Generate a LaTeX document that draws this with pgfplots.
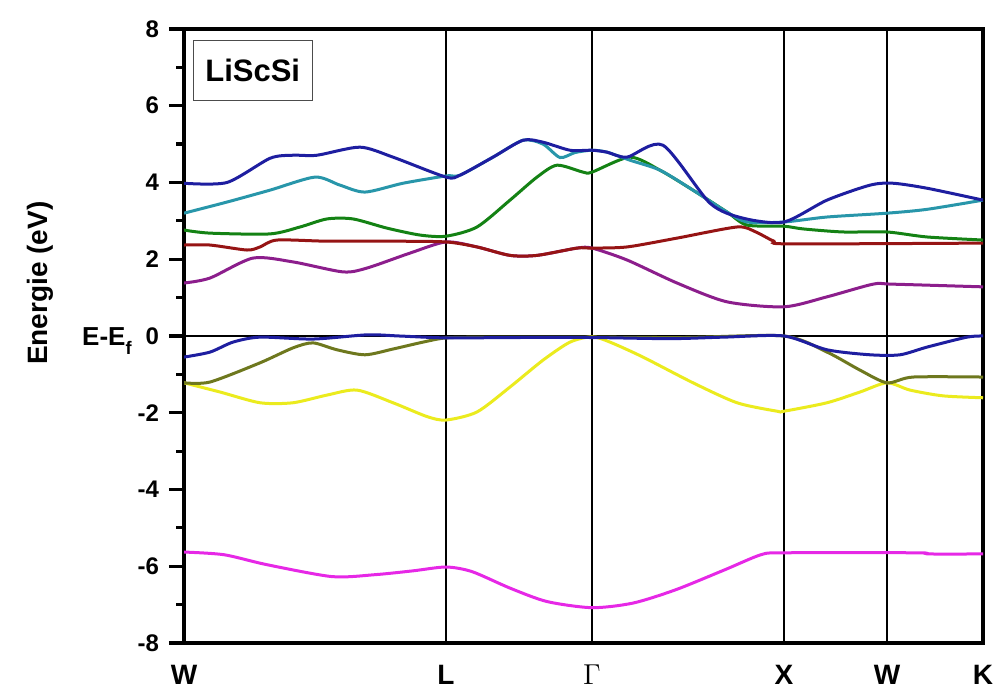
\documentclass[border=0pt]{standalone}
\usepackage{fontspec}
\setmainfont{Liberation Sans}
\usepackage{pgfplots}
\pgfplotsset{compat=1.18}
\definecolor{bBlue}{RGB}{30,30,160}
\definecolor{bCyan}{RGB}{40,150,170}
\definecolor{bGreen}{RGB}{20,130,20}
\definecolor{bRed}{RGB}{150,20,20}
\definecolor{bPurple}{RGB}{140,30,140}
\definecolor{bOlive}{RGB}{110,120,30}
\definecolor{bYellow}{RGB}{235,235,30}
\definecolor{bMag}{RGB}{230,40,230}
\begin{document}
\begin{tikzpicture}
\useasboundingbox (0,0) rectangle (500pt,344pt);
\begin{axis}[
  name=ax,
  at={(92pt,22.5pt)}, anchor=south west,
  scale only axis, width=399.5pt, height=307pt,
  xmin=0, xmax=799, ymin=-8, ymax=8,
  axis line style={line width=2.4pt},
  xtick={0,262,408,600,703,799},
  xticklabels={W,L,{\fontsize{15}{16}\selectfont$\Gamma$},X,W,K},
  x tick label style={font=\bfseries\fontsize{14}{16}\selectfont, yshift=0pt},
  major x tick style={draw=none},
  xmajorgrids, grid style={black, line width=0.8pt},
  ytick={-8,-6,-4,-2,0,2,4,6,8},
  yticklabels={-8,-6,-4,-2,0,2,4,6,8},
  minor y tick num=1,
  ytick pos=left, tick align=outside,
  y tick label style={font=\bfseries\fontsize{12}{14}\selectfont, xshift=-1.5pt},
  major tick length=7.5pt, minor tick length=3.8pt,
  every tick/.style={black, line width=1.6pt},
  ylabel={Energie (eV)},
  ylabel style={at={(axis description cs:-0.18,0.586)}, anchor=center, font=\bfseries\fontsize{14}{16}\selectfont},
  every axis plot/.append style={smooth, line width=1.5pt, tension=0.45},
  clip=true,
]
\addplot[black, line width=0.8pt, sharp plot] coordinates {(0,0) (799,0)};
% magenta
\addplot[bMag] coordinates {(0,-5.63) (40,-5.70) (83,-5.96) (148,-6.27) (191,-6.22) (229,-6.12) (262,-6.02) (288,-6.14) (326,-6.57) (363,-6.92) (408,-7.08) (449,-6.96) (492,-6.61) (541,-6.09) (577,-5.70) (600,-5.65) (734,-5.65) (745,-5.68) (799,-5.68)};
% yellow
\addplot[bYellow] coordinates {(0,-1.22) (36,-1.46) (76,-1.74) (109,-1.74) (143,-1.54) (173,-1.41) (209,-1.74) (243,-2.10) (262,-2.19) (293,-1.98) (326,-1.33) (359,-0.63) (386,-0.16) (408,-0.02) (426,-0.16) (459,-0.55) (509,-1.22) (553,-1.74) (593,-1.96) (600,-1.96) (643,-1.74) (676,-1.46) (703,-1.22) (726,-1.41) (759,-1.56) (799,-1.61)};
% olive
\addplot[bOlive] coordinates {(0,-1.22) (26,-1.20) (76,-0.70) (109,-0.31) (129,-0.18) (153,-0.36) (181,-0.49) (209,-0.34) (239,-0.16) (262,-0.05) (300,-0.03) (408,-0.03) (500,-0.04) (600,0) (643,-0.42) (676,-0.89) (703,-1.22) (729,-1.07) (799,-1.07)};
% blue valence
\addplot[bBlue] coordinates {(0,-0.55) (26,-0.42) (49,-0.16) (76,-0.03) (129,-0.08) (183,0.03) (215,0) (262,-0.05) (330,-0.04) (408,-0.04) (486,-0.07) (540,-0.03) (600,0) (643,-0.36) (686,-0.49) (716,-0.49) (743,-0.29) (783,-0.03) (799,0)};
% purple
\addplot[bPurple] coordinates {(0,1.38) (26,1.51) (69,2.03) (109,1.93) (159,1.67) (183,1.77) (226,2.16) (262,2.45) (293,2.32) (326,2.10) (353,2.10) (393,2.29) (408,2.29) (443,1.98) (493,1.38) (543,0.89) (600,0.76) (643,1.02) (689,1.35) (709,1.35) (799,1.28)};
% red
\addplot[bRed] coordinates {(0,2.37) (26,2.37) (63,2.24) (76,2.32) (93,2.50) (143,2.47) (209,2.47) (262,2.45) (293,2.32) (326,2.10) (353,2.10) (393,2.29) (408,2.29) (443,2.32) (493,2.55) (553,2.84) (571,2.72) (590,2.47) (605,2.40) (799,2.42)};
% green
\addplot[bGreen] coordinates {(0,2.76) (26,2.68) (86,2.66) (116,2.84) (143,3.05) (169,3.05) (203,2.81) (236,2.63) (262,2.60) (293,2.84) (326,3.54) (353,4.14) (373,4.45) (399,4.27) (408,4.27) (446,4.66) (476,4.32) (509,3.80) (543,3.23) (563,2.89) (600,2.86) (619,2.79) (659,2.71) (703,2.71) (743,2.58) (799,2.50)};
% cyan
\addplot[bCyan] coordinates {(0,3.20) (43,3.49) (86,3.80) (131,4.14) (156,3.93) (181,3.75) (219,3.98) (262,4.17) (276,4.19) (309,4.66) (339,5.10) (359,5.00) (376,4.65) (391,4.78) (408,4.84) (423,4.79) (446,4.58) (476,4.32) (509,3.80) (543,3.23) (563,2.97) (600,2.97) (643,3.10) (703,3.20) (743,3.30) (799,3.54)};
% blue top
\addplot[bBlue] coordinates {(0,3.98) (43,4.00) (86,4.63) (109,4.71) (133,4.71) (176,4.92) (209,4.66) (262,4.14) (276,4.19) (309,4.66) (339,5.10) (359,5.05) (386,4.84) (408,4.84) (423,4.79) (443,4.66) (479,4.97) (526,3.46) (559,3.07) (600,2.97) (643,3.54) (686,3.93) (709,3.98) (743,3.85) (799,3.54)};
\node[draw=black!70, line width=0.6pt, font=\bfseries\fontsize{15.5}{17}\selectfont, minimum width=59.5pt, minimum height=30pt] at (axis description cs:0.086,0.933) {LiScSi};
\end{axis}
\node[anchor=base east, inner sep=0pt, font=\bfseries\fontsize{13}{14}\selectfont] at ([xshift=-25.5pt, yshift=-4.6pt]ax.west) {E-E\raisebox{-0.35ex}{\textsubscript{f}}};
\end{tikzpicture}
\end{document}
